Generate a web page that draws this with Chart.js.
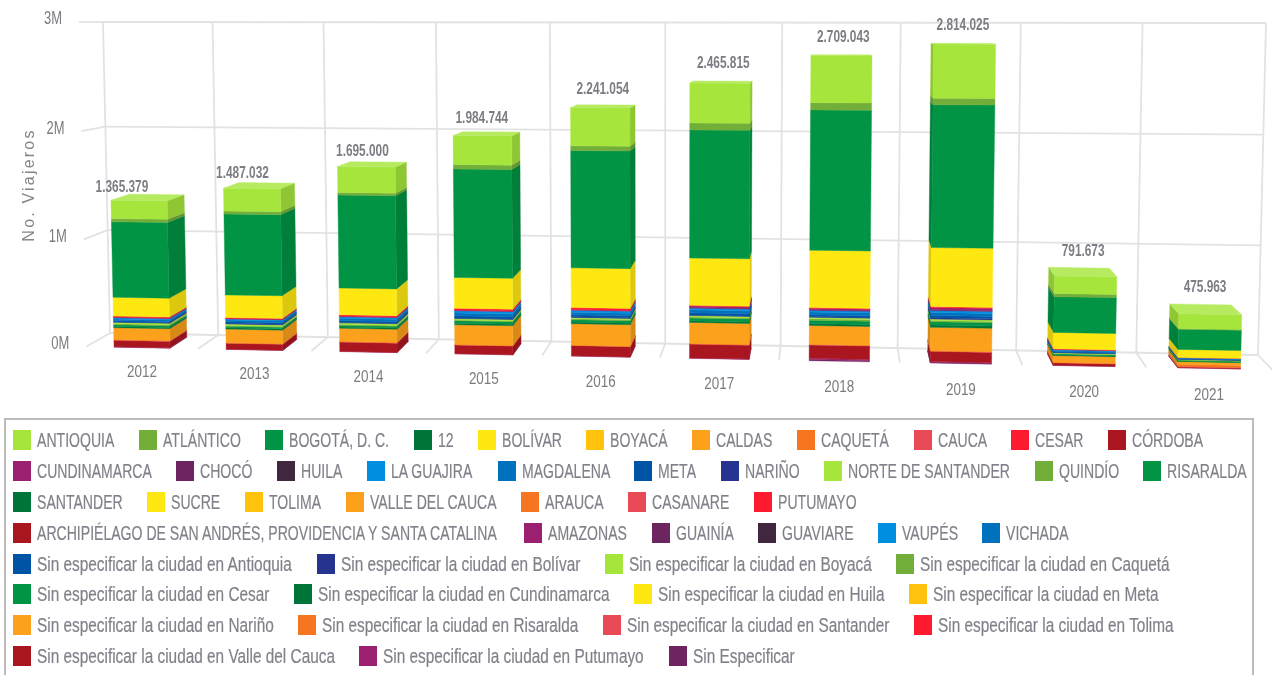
<!DOCTYPE html>
<html lang="es">
<head>
<meta charset="utf-8">
<title>No. Viajeros</title>
<script src="https://cdn.jsdelivr.net/npm/chart.js@4/dist/chart.umd.min.js"></script>
<style>
html,body{margin:0;padding:0;background:#fff;overflow:hidden;width:1277px;height:675px}
#c{position:absolute;left:0;top:0;filter:blur(.45px)}
#legend{position:absolute;left:4px;top:418px;width:1250px;height:280px;box-sizing:border-box;border:2px solid #bcbcbc;padding:5px 0 0 7px;display:flex;flex-wrap:wrap;align-content:flex-start;column-gap:24.5px;font:20.5px "Liberation Sans",sans-serif;color:#80808a;-webkit-text-stroke:.2px #80808a;filter:blur(.35px)}
.item{display:flex;align-items:center;height:30.8px}
.sw{width:18px;height:20px;margin-right:6px;flex:none}
.tx{display:inline-block;white-space:nowrap;overflow:visible}
.tx span{display:inline-block;transform-origin:0 50%}
</style>
</head>
<body>
<canvas id="c" width="1277" height="418"></canvas>
<div id="legend"></div>
<script>
const years = ["2012","2013","2014","2015","2016","2017","2018","2019","2020","2021"];
const yTickValues = [0,1000000,2000000,3000000];
const totals = [1365379,1487032,1695000,1984744,2241054,2465815,2709043,2814025,791673,475963];

const antioquia  = [170000,210000,237000,263000,342000,355000,412000,472000,155000,130000];
const atlantico  = [30000,27000,23000,39000,42000,62000,64000,57000,28000,6000];
const bogota     = [700000,745000,850000,985000,1056000,1144000,1244000,1258000,317000,178000];
const bolivar    = [175000,209000,246000,281000,360000,426000,512000,524000,145000,70000];
const cesar      = [8000,8000,12000,16000,18000,6000,6000,8000,4000,2000];
const cundinamarca = [8000,6000,6000,6000,6000,14000,14000,20000,3000,0];
const choco      = [0,0,0,0,0,4000,5000,6000,0,0];
const guajira    = [10000,10000,14000,20000,18000,16000,16000,18000,6000,3000];
const magdalena  = [14000,16000,20000,26000,24000,26000,24000,26000,10000,5000];
const meta       = [12000,14000,16000,20000,18000,20000,16000,22000,8000,5000];
const narino     = [6000,6000,6000,6000,6000,6000,6000,10000,3000,2000];
const norte      = [14000,14000,14000,12000,12000,12000,14000,14000,6000,4000];
const quindio    = [8000,8000,8000,8000,8000,10000,12000,10000,3000,3000];
const risaralda  = [16000,14000,16000,22000,22000,26000,30000,30000,10000,8000];
const santander  = [12000,12000,12000,14000,14000,14000,18000,20000,6000,4000];
const valle      = [110000,125000,120000,181000,195000,190000,168000,208000,60000,24000];
const arauca     = [4000,3000,4000,2000,2000,3000,3000,3000,2000,20000];
const casanare   = [4000,3000,3000,2000,2000,3000,3000,3000,2000,2000];
const sanAndres  = [60000,55000,85000,80000,94000,125000,120000,92000,22000,8000];
const amazonas   = [4379,2032,3000,1744,2054,3815,12000,7000,1673,1963];
const sinEspecificar = [0,0,0,0,0,0,10043,6025,0,0];
const noTrace    = [0,0,0,0,0,0,0,0,0,0];

const palette = ["#a6e63c","#72ae3a","#009444","#00753a","#ffe811","#ffc20d","#fba11b","#f57521","#e84b56","#fe1a2f","#aa1620","#9b206f","#6d2561","#40273f","#008fe0","#0071bc","#0054a6","#27348f"];

const series = [
 ["ANTIOQUIA",antioquia],["ATLÁNTICO",atlantico],["BOGOTÁ, D. C.",bogota],["12",noTrace],["BOLÍVAR",bolivar],["BOYACÁ",noTrace],["CALDAS",noTrace],["CAQUETÁ",noTrace],["CAUCA",noTrace],["CESAR",cesar],["CÓRDOBA",noTrace],
 ["CUNDINAMARCA",cundinamarca],["CHOCÓ",choco],["HUILA",noTrace],["LA GUAJIRA",guajira],["MAGDALENA",magdalena],["META",meta],["NARIÑO",narino],["NORTE DE SANTANDER",norte],["QUINDÍO",quindio],["RISARALDA",risaralda],
 ["SANTANDER",santander],["SUCRE",noTrace],["TOLIMA",noTrace],["VALLE DEL CAUCA",valle],["ARAUCA",arauca],["CASANARE",casanare],["PUTUMAYO",noTrace],
 ["ARCHIPIÉLAGO DE SAN ANDRÉS, PROVIDENCIA Y SANTA CATALINA",sanAndres],["AMAZONAS",amazonas],["GUAINÍA",noTrace],["GUAVIARE",noTrace],["VAUPÉS",noTrace],["VICHADA",noTrace],
 ["Sin especificar la ciudad en Antioquia",noTrace],["Sin especificar la ciudad en Bolívar",noTrace],["Sin especificar la ciudad en Boyacá",noTrace],["Sin especificar la ciudad en Caquetá",noTrace],
 ["Sin especificar la ciudad en Cesar",noTrace],["Sin especificar la ciudad en Cundinamarca",noTrace],["Sin especificar la ciudad en Huila",noTrace],["Sin especificar la ciudad en Meta",noTrace],
 ["Sin especificar la ciudad en Nariño",noTrace],["Sin especificar la ciudad en Risaralda",noTrace],["Sin especificar la ciudad en Santander",noTrace],["Sin especificar la ciudad en Tolima",noTrace],
 ["Sin especificar la ciudad en Valle del Cauca",noTrace],["Sin especificar la ciudad en Putumayo",noTrace],["Sin Especificar",sinEspecificar]
];
const colorOf = i => palette[i % palette.length];

/* ---- 3D view of the plot box ---- */
const wall = {tl:[103,22],tr:[1266,23],br:[1258,355],bl:[110,333]};
const vanish = [830,22], growX = 0.033, growY = 0.044, barBackDepth = 0.2;
const totalLabelNudge = [[-20,-7],[-12,-9],[-6,-10],[-2,-13],[2,-15],[4,-17],[4,-17],[2,-18],[-1,-16],[-4,-17]];

const H = (function(){
  const [x0,y0]=wall.tl,[x1,y1]=wall.tr,[x2,y2]=wall.br,[x3,y3]=wall.bl;
  const dx1=x1-x2,dx2=x3-x2,sx=x0-x1+x2-x3,dy1=y1-y2,dy2=y3-y2,sy=y0-y1+y2-y3;
  const den=dx1*dy2-dx2*dy1,g=(sx*dy2-dx2*sy)/den,h=(dx1*sy-sx*dy1)/den;
  return {a:x1-x0+g*x1,b:x3-x0+h*x3,c:x0,d:y1-y0+g*y1,e:y3-y0+h*y3,f:y0,g,h};
})();
function project(u,v,depth){
  const w=H.g*u+H.h*v+1;
  const X=(H.a*u+H.b*v+H.c)/w, Y=(H.d*u+H.e*v+H.f)/w;
  return [vanish[0]+(X-vanish[0])*(1+growX*depth), vanish[1]+(Y-vanish[1])*(1+growY*depth)];
}
function shade(hex,f){
  const n=parseInt(hex.slice(1),16);
  const c=[n>>16,(n>>8)&255,n&255].map(x=>Math.max(0,Math.min(255,Math.round(f>1?x+(255-x)*(f-1):x*f))));
  return `rgb(${c[0]},${c[1]},${c[2]})`;
}
function quad(ctx,pts,col){
  ctx.beginPath();
  pts.forEach((p,i)=>i?ctx.lineTo(p[0],p[1]):ctx.moveTo(p[0],p[1]));
  ctx.closePath();
  ctx.fillStyle=col;ctx.strokeStyle=col;ctx.lineWidth=.4;ctx.fill();ctx.stroke();
}
function line(ctx,a,b){ctx.beginPath();ctx.moveTo(a[0],a[1]);ctx.lineTo(b[0],b[1]);ctx.stroke();}
function squeezedText(ctx,text,x,y,sx){
  ctx.save();ctx.translate(x,y);ctx.scale(sx,1);ctx.fillText(text,0,0);ctx.restore();
}

const view3d = {
  id:'view3d',
  beforeDatasetsDraw(chart){
    const ctx=chart.ctx,pa=chart.chartArea,ys=chart.scales.y;
    const U=px=>(px-pa.left)/(pa.right-pa.left),V=py=>(py-pa.top)/(pa.bottom-pa.top);
    ctx.save();
    ctx.strokeStyle='#e2e2e2';ctx.lineWidth=1.8;
    ys.ticks.forEach(t=>{
      const v=V(ys.getPixelForValue(t.value));
      line(ctx,project(0,v,1),project(0,v,0));
      line(ctx,project(0,v,0),project(1,v,0));
    });
    for(let i=0;i<=years.length;i++){
      const u=i/years.length;
      line(ctx,project(u,0,0),project(u,1,0));
      if(i>0) line(ctx,project(u,1,0),project(u,1,1));
    }
    /* bars: each element from the library's own layout */
    const metas=chart.getSortedVisibleDatasetMetas();
    years.forEach((_,i)=>{
      let topFace=null;
      metas.forEach(m=>{
        const el=m.data[i],col=chart.data.datasets[m.index].backgroundColor;
        if(Math.abs(el.base-el.y)<.01) return;
        const u0=U(el.x-el.width/2),u1=U(el.x+el.width/2),vb=V(el.base),vt=V(el.y);
        const F=(u,v)=>project(u,v,1),B=(u,v)=>project(u,v,barBackDepth);
        if(B(u1,vb)[0]>F(u1,vb)[0]) quad(ctx,[F(u1,vb),B(u1,vb),B(u1,vt),F(u1,vt)],shade(col,.86));
        if(B(u0,vb)[0]<F(u0,vb)[0]) quad(ctx,[F(u0,vb),B(u0,vb),B(u0,vt),F(u0,vt)],shade(col,.86));
        quad(ctx,[F(u0,vb),F(u1,vb),F(u1,vt),F(u0,vt)],col);
        topFace={u0,u1,vt,col};
      });
      if(topFace){
        const {u0,u1,vt,col}=topFace;
        quad(ctx,[project(u0,vt,1),project(u1,vt,1),project(u1,vt,barBackDepth),project(u0,vt,barBackDepth)],shade(col,1.18));
      }
    });
    ctx.restore();
    return false;
  },
  afterDraw(chart){
    const ctx=chart.ctx,pa=chart.chartArea,xs=chart.scales.x,ys=chart.scales.y;
    const U=px=>(px-pa.left)/(pa.right-pa.left),V=py=>(py-pa.top)/(pa.bottom-pa.top);
    const sans='"Liberation Sans",sans-serif';
    ctx.save();
    ctx.textBaseline='middle';
    /* y ticks */
    ctx.fillStyle='#7b7b80';ctx.font='18px '+sans;ctx.textAlign='right';
    ys.ticks.forEach(t=>{
      const p=project(0,V(ys.getPixelForValue(t.value)),1);
      squeezedText(ctx,t.label,p[0]-17,p[1]-2.5,.72);
    });
    /* x ticks */
    ctx.textAlign='center';ctx.font='17px '+sans;
    xs.ticks.forEach((t,i)=>{
      const u=U(xs.getPixelForTick(i));
      const p=project(u,1,1);
      squeezedText(ctx,t.label,p[0],p[1]+24+3*u,.79);
    });
    /* totals above each stack */
    ctx.fillStyle='#7c7c84';ctx.font='bold 16px '+sans;
    totals.forEach((v,i)=>{
      const u=U(xs.getPixelForTick(i));
      const p=project(u,V(ys.getPixelForValue(v)),barBackDepth);
      const n=totalLabelNudge[i];
      squeezedText(ctx,String(v).replace(/\B(?=(\d{3})+$)/g,'.'),project(u,1,1)[0]+n[0],p[1]+n[1],.74);
    });
    /* axis title */
    ctx.translate(30,185);ctx.rotate(-Math.PI/2);
    ctx.fillStyle='#85858a';ctx.font='16px '+sans;
    if('letterSpacing' in ctx) ctx.letterSpacing='2.2px';
    ctx.fillText(ys.options.title.text,0,0);
    ctx.restore();
  }
};

new Chart(document.getElementById('c'),{
  type:'bar',
  data:{labels:years,datasets:series.map((s,i)=>({label:s[0],data:s[1],backgroundColor:colorOf(i)})).reverse()},
  plugins:[view3d],
  options:{
    responsive:false,animation:false,
    plugins:{legend:{display:false},tooltip:{enabled:false}},
    layout:{padding:{left:100,right:10,top:20,bottom:40}},
    datasets:{bar:{barPercentage:.5,categoryPercentage:1}},
    scales:{
      x:{stacked:true,grid:{display:false},border:{display:false},ticks:{display:false,autoSkip:false}},
      y:{stacked:true,min:0,max:3000000,grid:{display:false},border:{display:false},
         title:{display:false,text:'No. Viajeros'},
         afterBuildTicks(a){a.ticks=yTickValues.map(v=>({value:v}));},
         ticks:{display:false,callback:v=>(v/1000000)+'M'}}
    }
  }
});

/* legend, in reading order of the series */
const lg=document.getElementById('legend');
const mctx=document.createElement('canvas').getContext('2d');
mctx.font='20.5px "Liberation Sans",sans-serif';
series.forEach((s,i)=>{
  const squeeze=/^Sin /.test(s[0])?.75:.686;
  const it=document.createElement('div');it.className='item';
  const sw=document.createElement('span');sw.className='sw';sw.style.background=colorOf(i);
  const tx=document.createElement('span');tx.className='tx';
  const inner=document.createElement('span');inner.textContent=s[0];
  inner.style.transform=`scaleX(${squeeze})`;
  tx.style.width=(mctx.measureText(s[0]).width*squeeze)+'px';
  tx.appendChild(inner);it.appendChild(sw);it.appendChild(tx);lg.appendChild(it);
});
</script>
</body>
</html>
